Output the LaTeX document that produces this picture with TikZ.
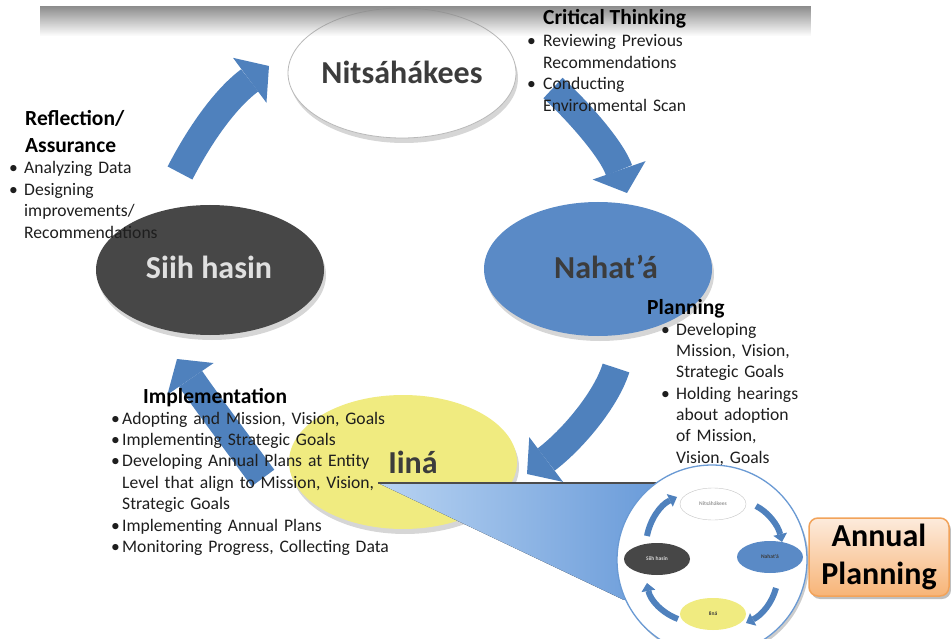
\documentclass[tikz,border=0pt]{standalone}
\usepackage{fontspec}
\setmainfont{Carlito}
\usetikzlibrary{shapes.geometric,arrows.meta,shadows,fadings}
\definecolor{arr}{HTML}{4F81BD}
\definecolor{nblue}{HTML}{5A8AC6}
\definecolor{sdark}{HTML}{474747}
\definecolor{iyel}{HTML}{F0EB80}
\definecolor{txtc}{HTML}{1E1E1E}
\definecolor{lblc}{HTML}{3C3C3C}
\definecolor{ringc}{HTML}{6A9AD4}
\definecolor{orbd}{HTML}{F2A35A}
\definecolor{orT}{HTML}{FDEBDC}
\definecolor{orB}{HTML}{F7B477}
\definecolor{wl}{HTML}{B8D3F2}
\definecolor{wr}{HTML}{5A90D4}
\newcommand\bulx[1]{\makebox[#1][l]{•}}
\newcommand\indx[1]{\hspace*{#1}}
\begin{document}
\begin{tikzpicture}[x=1pt,y=-1pt,
  bigell/.style={ellipse, minimum width=228pt, minimum height=130pt, inner sep=0pt,
    drop shadow={shadow xshift=2pt, shadow yshift=-5pt, opacity=0.16, fill=black}},
  bigarrow/.style={draw=arr, line width=28pt, -{Triangle[width=56pt,length=24pt,line width=0pt]}},
  miniarrow/.style={draw=arr, line width=6pt, -{Triangle[width=14pt,length=8pt,line width=0pt]}},
  miniell/.style={ellipse, minimum width=66pt, minimum height=32pt, inner sep=0pt,
    font=\fontsize{5.5}{6}\selectfont\bfseries},
  lbl/.style={anchor=base, inner sep=0pt, font=\fontsize{32}{36}\selectfont\bfseries},
  hd/.style={anchor=base west, inner sep=0pt, text=black, font=\fontsize{21.5}{27}\selectfont\bfseries},
  txtb/.style={anchor=base west, inner sep=0pt, text=txtc, align=left, text width=300pt,
    font=\fontsize{17.6}{21.4}\selectfont}]
\useasboundingbox (0,0) rectangle (951,639);
\clip (0,0) rectangle (951,639);
\fill[white] (0,0) rectangle (951,639);

% main ellipses
\node[bigell, fill=white, draw=gray!55, line width=0.8pt] (nits) at (402,73) {};
\node[bigell, fill=sdark] (siih) at (210,270) {};
\node[bigell, fill=nblue, minimum height=134pt] (naha) at (598,269) {};
\node[bigell, fill=iyel, minimum height=134pt] (iina) at (403,462) {};

% top shadow band
\fill[black!45, path fading=south] (40,6) rectangle (812,36);

% callout wedge
\coordinate (wA) at (378,483);
\coordinate (wB) at (662,483);
\coordinate (wC) at (712,560);
\coordinate (wD) at (624,600);
\fill[left color=wl, right color=wr] (wA) -- (wB) -- (wC) -- (wD) -- cycle;
\draw[draw=black!70, line width=1.3pt] (wA) -- (wB);

% big cycle arrows
\coordinate (a1s) at (180,173); \coordinate (a1e) at (269,66);
\coordinate (a2s) at (553,88);  \coordinate (a2e) at (627,193);
\coordinate (a3s) at (616,368); \coordinate (a3e) at (527,474);
\coordinate (a4s) at (263,478); \coordinate (a4e) at (177,359);
\draw[bigarrow] (a1s) .. controls (205,125) and (230,95) .. (a1e);
\draw[bigarrow] (a2s) .. controls (580,113) and (612,150) .. (a2e);
\draw[bigarrow] (a3s) .. controls (606,400) and (572,440) .. (a3e);
\draw[bigarrow] (a4s) .. controls (235,440) and (205,400) .. (a4e);

% mini diagram
\node[circle, minimum size=190pt, inner sep=0pt, fill=white, draw=ringc, line width=1.3pt,
  drop shadow={shadow xshift=2pt, shadow yshift=-3pt, opacity=0.2, fill=black}] (mini) at (712,560) {};
\node[miniell, fill=white, draw=gray!45, text=gray!80] (mnits) at (713,504) {Nitsáhákees};
\node[miniell, fill=sdark, text=white!85!black] (msiih) at (657,559) {Siih hasin};
\node[miniell, fill=nblue, text=lblc] (mnaha) at (770,557) {Nahat’á};
\node[miniell, fill=iyel, text=lblc] (miina) at (713,614) {Iiná};
\coordinate (m1s) at (647,536); \coordinate (m1e) at (677,497);
\coordinate (m2s) at (756,506); \coordinate (m2e) at (782,542);
\coordinate (m3s) at (776,588); \coordinate (m3e) at (746,623);
\coordinate (m4s) at (678,619); \coordinate (m4e) at (647,583);
\draw[miniarrow] (m1s) .. controls (650,520) and (660,505) .. (m1e);
\draw[miniarrow] (m2s) .. controls (768,512) and (778,525) .. (m2e);
\draw[miniarrow] (m3s) .. controls (772,603) and (762,615) .. (m3e);
\draw[miniarrow] (m4s) .. controls (662,613) and (650,600) .. (m4e);

% Annual Planning box
\node[rounded corners=9pt, draw=orbd, line width=1.5pt, top color=orT, bottom color=orB,
  minimum width=140pt, minimum height=78pt, inner sep=0pt, align=center,
  font=\fontsize{32}{38}\selectfont\bfseries,
  drop shadow={shadow xshift=2pt, shadow yshift=-3pt, opacity=0.25, fill=black}] (ap) at (879,557) {Annual\\Planning};

% ellipse labels
\node[lbl, text=lblc] (nitsL) at (402,84) {Nitsáhákees};
\node[lbl, text=white!88!black] (siihL) at (209,279) {Siih hasin};
\node[lbl, text=lblc] (nahaL) at (606,279) {Nahat’á};
\node[lbl, text=lblc] (iinaL) at (413,473) {Iiná};

% text blocks
\node[hd] (ctT) at (543,25) {Critical Thinking};
\node[txtb] (ctB) at (527,47) {\bulx{16pt}Reviewing Previous\\ \indx{16pt}Recommendations\\ \bulx{16pt}Conducting\\ \indx{16pt}Environmental Scan};

\node[hd, align=left, text width=160pt] (rfT) at (25,126) {Reflection/\\Assurance};
\node[txtb] (rfB) at (9,174) {\bulx{15pt}Analyzing Data\\ \bulx{15pt}Designing\\ \indx{15pt}improvements/\\ \indx{15pt}Recommendations};

\node[hd] (plT) at (647,314) {Planning};
\node[txtb] (plB) at (661,335) {\bulx{15pt}Developing\\ \indx{15pt}Mission, Vision,\\ \indx{15pt}Strategic Goals\\ \bulx{15pt}Holding hearings\\ \indx{15pt}about adoption\\ \indx{15pt}of Mission,\\ \indx{15pt}Vision, Goals};

\node[hd] (imT) at (143,403) {Implementation};
\node[txtb] (imB) at (111,424) {\bulx{11pt}Adopting and Mission, Vision, Goals\\ \bulx{11pt}Implementing Strategic Goals\\ \bulx{11pt}Developing Annual Plans at Entity\\ \indx{11pt}Level that align to Mission, Vision,\\ \indx{11pt}Strategic Goals\\ \bulx{11pt}Implementing Annual Plans\\ \bulx{11pt}Monitoring Progress, Collecting Data};
\end{tikzpicture}
\end{document}
